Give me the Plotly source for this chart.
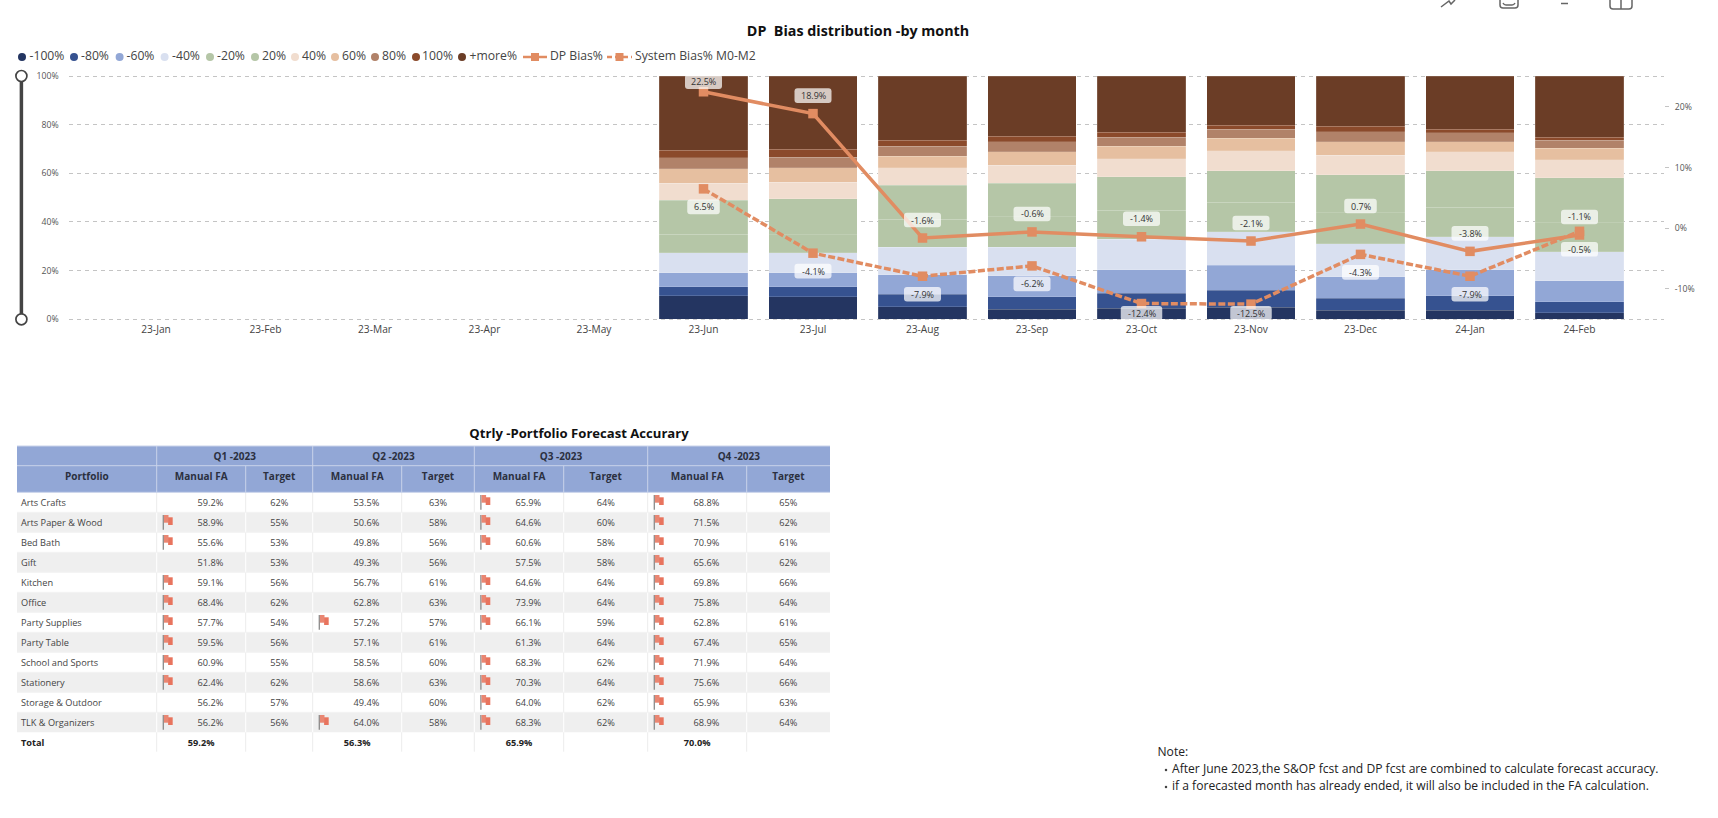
import plotly.graph_objects as go

FONT = "Open Sans"
W, H = 1718, 818

# ---------- chart data ----------
months = ["23-Jan", "23-Feb", "23-Mar", "23-Apr", "23-May", "23-Jun", "23-Jul", "23-Aug",
          "23-Sep", "23-Oct", "23-Nov", "23-Dec", "24-Jan", "24-Feb"]
n = None
minus100 = [n, n, n, n, n, 9.6, 9.3, 5.2, 4.1, 4.5, 4.9, 3.7, 3.7, 2.7]
minus80 = [n, n, n, n, n, 3.8, 4.1, 5.2, 5.2, 6.2, 7.0, 4.9, 5.9, 4.6]
minus60 = [n, n, n, n, n, 5.8, 5.8, 8.0, 8.5, 9.6, 10.3, 8.8, 10.7, 8.5]
minus40 = [n, n, n, n, n, 8.1, 8.2, 11.2, 11.9, 12.7, 13.7, 13.7, 13.7, 11.9]
minus20 = [n, n, n, n, n, 7.6, 7.3, 11.5, 12.5, 11.8, 12.2, 12.7, 12.0, 12.0]
plus20 = [n, n, n, n, n, 14.1, 14.8, 14.1, 13.8, 13.7, 12.9, 15.7, 15.0, 18.4]
plus40 = [n, n, n, n, n, 6.9, 6.9, 7.0, 7.4, 7.5, 8.2, 8.0, 7.8, 7.5]
plus60 = [n, n, n, n, n, 5.9, 5.8, 4.9, 5.5, 5.2, 5.2, 5.4, 4.1, 4.8]
plus80 = [n, n, n, n, n, 4.5, 4.5, 4.0, 4.0, 3.7, 3.8, 4.1, 3.7, 3.2]
plus100 = [n, n, n, n, n, 3.2, 3.2, 2.5, 2.3, 1.9, 1.5, 2.3, 1.5, 1.2]
more = [n, n, n, n, n, 30.5, 30.1, 26.4, 24.8, 23.2, 20.3, 20.7, 21.9, 25.2]
dp_bias = [n, n, n, n, n, 22.5, 18.9, -1.6, -0.6, -1.4, -2.1, 0.7, -3.8, -1.1]
system_bias = [n, n, n, n, n, 6.5, -4.1, -7.9, -6.2, -12.4, -12.5, -4.3, -7.9, -0.5]

stack_names = ["-100%", "-80%", "-60%", "-40%", "-20%", "20%", "40%", "60%", "80%", "100%", "+more%"]
stack_values = [minus100, minus80, minus60, minus40, minus20, plus20, plus40, plus60, plus80, plus100, more]
stack_colors = ["#243561", "#365290", "#92A7D6", "#D9E0F0", "#B5C6A7", "#B5C6A7",
                "#F1DDCF", "#E6BFA0", "#B18269", "#8B4A2B", "#6B3D26"]
LINE_COLOR = "#E18C62"

# ---------- table data ----------
portfolios = ["Arts Crafts", "Arts Paper & Wood", "Bed Bath", "Gift", "Kitchen", "Office", "Party Supplies",
              "Party Table", "School and Sports", "Stationery", "Storage & Outdoor", "TLK & Organizers"]
quarters = ["Q1 -2023", "Q2 -2023", "Q3 -2023", "Q4 -2023"]
q1_fa = [59.2, 58.9, 55.6, 51.8, 59.1, 68.4, 57.7, 59.5, 60.9, 62.4, 56.2, 56.2]
q1_target = [62, 55, 53, 53, 56, 62, 54, 56, 55, 62, 57, 56]
q2_fa = [53.5, 50.6, 49.8, 49.3, 56.7, 62.8, 57.2, 57.1, 58.5, 58.6, 49.4, 64.0]
q2_target = [63, 58, 56, 56, 61, 63, 57, 61, 60, 63, 60, 58]
q3_fa = [65.9, 64.6, 60.6, 57.5, 64.6, 73.9, 66.1, 61.3, 68.3, 70.3, 64.0, 68.3]
q3_target = [64, 60, 58, 58, 64, 64, 59, 64, 62, 64, 62, 62]
q4_fa = [68.8, 71.5, 70.9, 65.6, 69.8, 75.8, 62.8, 67.4, 71.9, 75.6, 65.9, 68.9]
q4_target = [65, 62, 61, 62, 66, 64, 61, 65, 64, 66, 63, 64]
totals = [59.2, 56.3, 65.9, 70.0]
fa_columns = [q1_fa, q2_fa, q3_fa, q4_fa]
target_columns = [q1_target, q2_target, q3_target, q4_target]

note_lines = ["Note:",
              "After June 2023,the S&OP fcst and DP fcst are combined to calculate forecast accuracy.",
              "if a forecasted month has already ended, it will also be included in the FA calculation."]

# ---------- layout constants (pixels) ----------
PLOT_L, PLOT_R, PLOT_T, PLOT_B = 68.6, 1664, 76, 319.3
plot_h = PLOT_B - PLOT_T
PAD = 0.6                                   # % of axis added at both ends so the 0% and 100% grid lines are drawn
PAD_PX = PAD / 100 * plot_h
Y_RANGE = [-PAD, 100 + PAD]
Y2_MIN, Y2_MAX = -15, 25.1
Y2_PAD = PAD / 100 * (Y2_MAX - Y2_MIN)
CELL = 109.5
COLS = [17, 156.7, 245.7, 312.7, 401.7, 474.3, 563.7, 647.7, 746.7, 830]
HEAD_T, HEAD_M, HEAD_B, ROW_H = 446, 465.7, 492.3, 20

fig = go.Figure()

# stacked bars
for name, vals, col in zip(stack_names, stack_values, stack_colors):
    fig.add_trace(go.Bar(x=months, y=vals, name=name, marker=dict(color=col, line=dict(color="rgba(255,255,255,0.18)", width=0.8)),
                         showlegend=False, hoverinfo="skip"))

# bias lines
fig.add_trace(go.Scatter(x=months, y=dp_bias, yaxis="y2", mode="lines+markers", name="DP Bias%", showlegend=False,
                         line=dict(color=LINE_COLOR, width=3.5), marker=dict(symbol="square", size=9.5, color=LINE_COLOR),
                         cliponaxis=False, hoverinfo="skip"))
fig.add_trace(go.Scatter(x=months, y=system_bias, yaxis="y2", mode="lines+markers", name="System Bias% M0-M2", showlegend=False,
                         line=dict(color=LINE_COLOR, width=3.5, dash="7px,2.5px"), marker=dict(symbol="square", size=9.5, color=LINE_COLOR),
                         cliponaxis=False, hoverinfo="skip"))

shapes, annotations = [], []


def add_label(cat, v, sign):
    px = (v - Y2_MIN) / (Y2_MAX - Y2_MIN) * plot_h
    c = px + 18 * sign
    c = min(c, plot_h - 5.7) if sign > 0 else max(c, 6)
    shift = c - px
    txt = f"{v:.1f}%"
    w = 4.5 * len(txt) + 14.5
    h, r = 14.6, 3
    x0, x1, y0, y1 = -w / 2, w / 2, shift - h / 2, shift + h / 2
    path = (f"M{x0 + r},{y0} L{x1 - r},{y0} Q{x1},{y0} {x1},{y0 + r} L{x1},{y1 - r} Q{x1},{y1} {x1 - r},{y1} "
            f"L{x0 + r},{y1} Q{x0},{y1} {x0},{y1 - r} L{x0},{y0 + r} Q{x0},{y0} {x0 + r},{y0} Z")
    shapes.append(dict(type="path", xref="x", yref="y2", xsizemode="pixel", ysizemode="pixel",
                       xanchor=cat, yanchor=v, path=path, fillcolor="rgba(255,255,255,0.72)",
                       line=dict(width=0), layer="above"))
    annotations.append(dict(x=cat, y=v, xref="x", yref="y2", yshift=shift, text=txt, showarrow=False,
                            font=dict(family=FONT, size=9, color="#333")))


for cat, d, s in zip(months, dp_bias, system_bias):
    if d is not None:
        add_label(cat, d, 1)
        add_label(cat, s, -1)


def over(**kw):
    kw.setdefault("mode", "text")
    kw.setdefault("showlegend", False)
    kw.setdefault("hoverinfo", "skip")
    kw.setdefault("cliponaxis", False)
    return go.Scatter(xaxis="x3", yaxis="y3", **kw)


def text_trace(xs, ys, texts, size, color, pos="middle center"):
    return over(x=xs, y=ys, text=texts, textposition=pos, textfont=dict(family=FONT, size=size, color=color))


def rect(x0, y0, x1, y1, fill, layer="below"):
    shapes.append(dict(type="rect", xref="x3", yref="y3", x0=x0, x1=x1, y0=y0, y1=y1, fillcolor=fill, line=dict(width=0), layer=layer))


def seg(x0, y0, x1, y1, color, width=1, layer="below"):
    shapes.append(dict(type="line", xref="x3", yref="y3", x0=x0, x1=x1, y0=y0, y1=y1, line=dict(color=color, width=width), layer=layer))


# ---------- legend ----------
legend_marker_x = [22, 74, 119.6, 164.6, 210, 255, 295, 335, 375, 416, 462]
legend_text_x = [29.5, 81, 126.5, 172, 217, 262, 302, 342, 382, 422, 469.5]
LEG_Y = 57
fig.add_trace(over(x=legend_marker_x, y=[LEG_Y] * 11, mode="markers",
                   marker=dict(symbol="circle", size=8, color=stack_colors)))
fig.add_trace(text_trace(legend_text_x, [LEG_Y] * 11, stack_names, 12.2, "#444", "middle right"))
fig.add_trace(over(x=[523, 547], y=[LEG_Y, LEG_Y], mode="lines", line=dict(color=LINE_COLOR, width=2.5)))
fig.add_trace(over(x=[607, 632], y=[LEG_Y, LEG_Y], mode="lines", line=dict(color=LINE_COLOR, width=2.5, dash="5px,3px")))
fig.add_trace(over(x=[535, 619.5], y=[LEG_Y, LEG_Y], mode="markers", marker=dict(symbol="square", size=8, color=LINE_COLOR)))
fig.add_trace(text_trace([550, 635], [LEG_Y, LEG_Y], ["DP Bias%", "System Bias% M0-M2"], 12.2, "#444", "middle right"))

# ---------- slicer ----------
fig.add_trace(over(x=[21.4, 21.4], y=[PLOT_T, PLOT_B], mode="lines", line=dict(color="#444", width=3.5)))
fig.add_trace(over(x=[21.4, 21.4], y=[PLOT_T, PLOT_B], mode="markers",
                   marker=dict(symbol="circle", size=11, color="white", line=dict(color="#444", width=1.7))))

# ---------- titles ----------
fig.add_trace(text_trace([858], [32], ["<b>DP  Bias distribution -by month</b>"], 14.3, "#111"))
fig.add_trace(text_trace([579], [435], ["<b>Qtrly -Portfolio Forecast Accurary</b>"], 13.1, "#111"))

# ---------- table ----------
rect(COLS[0], HEAD_T, COLS[-1], HEAD_B, "#92A7D6")
rows_bottom = HEAD_B + ROW_H * len(portfolios)
for i in range(len(portfolios)):
    y0 = HEAD_B + ROW_H * i
    if i % 2 == 1:
        rect(COLS[0], y0, COLS[-1], y0 + ROW_H, "#EFEFEF")
    for cx in COLS[1:-1]:
        seg(cx, y0, cx, y0 + ROW_H, "#FFFFFF" if i % 2 == 1 else "#ECECEC")
    seg(COLS[0], y0, COLS[-1], y0, "#F3F3F3" if i else "#C9D3EA")
for cx in COLS[1:-1]:
    seg(cx, rows_bottom, cx, rows_bottom + 19.4, "#ECECEC")
seg(COLS[0], HEAD_T, COLS[-1], HEAD_T, "#C9D3EA", 1)
seg(COLS[0], HEAD_M, COLS[-1], HEAD_M, "#C9D3EA", 1)
for j, cx in enumerate(COLS[1:-1]):
    seg(cx, HEAD_T if j % 2 == 0 else HEAD_M, cx, HEAD_B, "#C9D3EA", 1)

fa_left = COLS[1::2][:4]
fa_right = COLS[2::2][:4]
tg_right = COLS[3::2][:4]
HEAD_COLOR = "#2B3040"
fig.add_trace(text_trace([(a + b) / 2 for a, b in zip(fa_left, tg_right)], [(HEAD_T + HEAD_M) / 2 + 1.5] * 4,
                         [f"<b>{q}</b>" for q in quarters], 10, HEAD_COLOR))
hdr_x = [(COLS[0] + COLS[1]) / 2]
hdr_t = ["<b>Portfolio</b>"]
for a, b, c in zip(fa_left, fa_right, tg_right):
    hdr_x += [(a + b) / 2, (b + c) / 2]
    hdr_t += ["<b>Manual FA</b>", "<b>Target</b>"]
fig.add_trace(text_trace(hdr_x, [(HEAD_M + HEAD_B) / 2 - 2] * len(hdr_x), hdr_t, 10, HEAD_COLOR))

row_y = [HEAD_B + ROW_H * (i + 0.5) for i in range(len(portfolios))]
text_y = [ry + 1 for ry in row_y]
BODY = "#444"
fig.add_trace(text_trace([21] * len(portfolios), text_y, portfolios, 9.2, BODY, "middle right"))
cell_x, cell_y, cell_t = [], [], []
pole_x, pole_y, fa_x, fa_y, fb_x, fb_y = [], [], [], [], [], []
for k in range(4):
    a, b, c = fa_left[k], fa_right[k], tg_right[k]
    for i, ry in enumerate(row_y):
        cell_x += [(a + b) / 2 + 9.3, (b + c) / 2]
        cell_y += [ry + 1, ry + 1]
        cell_t += [f"{fa_columns[k][i]:.1f}%", f"{target_columns[k][i]}%"]
        if fa_columns[k][i] >= target_columns[k][i]:
            fx = a + 6.6
            pole_x += [fx, fx, None]
            pole_y += [ry - 7.3, ry + 7.5, None]
            fa_x += [fx + 2.9, fx + 2.9, None]
            fa_y += [ry - 7.3, ry + 0.4, None]
            fb_x += [fx + 7.1, fx + 7.1, None]
            fb_y += [ry - 5, ry + 2.7, None]
fig.add_trace(text_trace(cell_x, cell_y, cell_t, 9.2, BODY))
fig.add_trace(over(x=pole_x, y=pole_y, mode="lines", line=dict(color="#8A8A8A", width=1.3)))
fig.add_trace(over(x=fa_x, y=fa_y, mode="lines", line=dict(color="#E98672", width=4.6)))
fig.add_trace(over(x=fb_x, y=fb_y, mode="lines", line=dict(color="#E8745E", width=4.6)))
total_y = rows_bottom + 11.5
fig.add_trace(text_trace([21], [total_y], ["<b>Total</b>"], 9.2, "#222", "middle right"))
fig.add_trace(text_trace([(a + b) / 2 for a, b in zip(fa_left, fa_right)], [total_y] * 4,
                         [f"<b>{t:.1f}%</b>" for t in totals], 9.2, "#222"))

# ---------- note ----------
fig.add_trace(text_trace([1157.5], [753], [note_lines[0]], 12.1, "#222", "middle right"))
fig.add_trace(text_trace([1172, 1172], [770, 787], note_lines[1:], 12.1, "#222", "middle right"))
fig.add_trace(over(x=[1166, 1166], y=[770, 787], mode="markers", marker=dict(symbol="circle", size=2.5, color="#444")))

# ---------- clipped toolbar icons at the top edge ----------
for p in ["M1441,7 L1449,1 L1451,4 L1455,0",
          "M1500,0 V5 Q1500,8 1503,8 H1515 Q1518,8 1518,5 V0 M1503,3 Q1504,5 1506,5 H1512 Q1514,5 1515,3",
          "M1561,3.5 H1568",
          "M1610,0 V6 Q1610,9 1613,9 H1629 Q1632,9 1632,6 V0 M1621,0 V9"]:
    shapes.append(dict(type="path", xref="x3", yref="y3", path=p, line=dict(color="#666", width=1.5), layer="above"))

x0c = (PLOT_L - (703.5 - 5 * CELL)) / CELL
x1c = (PLOT_R - (703.5 - 5 * CELL)) / CELL

fig.update_layout(
    width=W, height=H, margin=dict(l=0, r=0, t=0, b=0, autoexpand=False), paper_bgcolor="white", plot_bgcolor="rgba(0,0,0,0)",
    barmode="stack", bargap=0.19, showlegend=False, hovermode=False,
    font=dict(family=FONT, size=10, color="#555"),
    shapes=shapes, annotations=annotations,
    xaxis=dict(domain=[PLOT_L / W, PLOT_R / W], type="category", categoryorder="array", categoryarray=months,
               range=[x0c, x1c], showgrid=False, zeroline=False, showline=False, ticks="", tickmode="linear", dtick=1,
               tickfont=dict(size=10.2, color="#444"), ticklabelstandoff=1, anchor="y"),
    yaxis=dict(domain=[1 - (PLOT_B + PAD_PX) / H, 1 - (PLOT_T - PAD_PX) / H], range=Y_RANGE, tickvals=[0, 20, 40, 60, 80, 100],
               ticktext=["0%", "20%", "40%", "60%", "80%", "100%"], showgrid=True, gridcolor="#C4C4C4", griddash="4px,4px",
               gridwidth=1.2, zeroline=False, showline=False, ticks="", tickfont=dict(size=8.7, color="#555"),
               ticklabelstandoff=9, anchor="x"),
    yaxis2=dict(overlaying="y", side="right", range=[Y2_MIN - Y2_PAD, Y2_MAX + Y2_PAD], tickvals=[-10, 0, 10, 20],
                ticktext=["-10%", "0%", "10%", "20%"], showgrid=False, zeroline=False, showline=False,
                ticks="outside", ticklen=4, tickcolor="#C4C4C4", tickfont=dict(size=8.7, color="#555"),
                ticklabelstandoff=4, anchor="x"),
    xaxis3=dict(domain=[0, 1], range=[0, W], visible=False, anchor="y3", fixedrange=True),
    yaxis3=dict(domain=[0, 1], range=[H, 0], visible=False, anchor="x3", fixedrange=True),
)

fig.write_html("out.html", post_script="document.body.style.margin='0';document.body.style.overflow='hidden';",
               config=dict(displayModeBar=False))
